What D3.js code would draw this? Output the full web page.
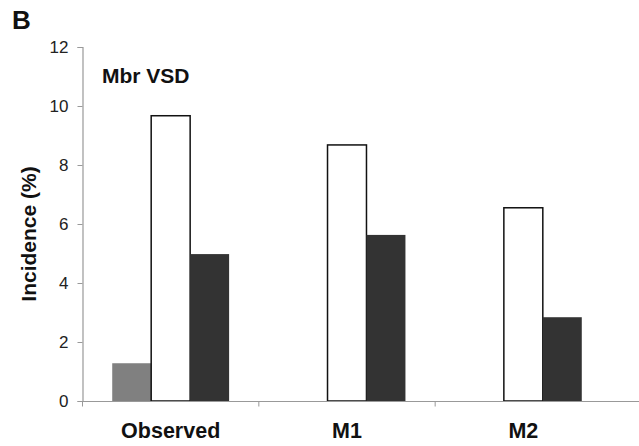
<!DOCTYPE html>
<html><head><meta charset="utf-8">
<script src="https://cdn.jsdelivr.net/npm/d3@7"></script>
<style>body{margin:0;background:#fff}svg{display:block}</style>
</head><body>
<script>
const categories = ["Observed", "M1", "M2"];
const seriesNames = ["S1", "S2", "S3"];
const s1 = [1.28, 0, 0];
const s2 = [9.67, 8.68, 6.55];
const s3 = [4.98, 5.63, 2.84];
const yTicks = [0, 2, 4, 6, 8, 10, 12];

const W = 639, H = 446;
const FONT = "Arial, 'Liberation Sans', sans-serif";
const svg = d3.select("body").append("svg").attr("width", W).attr("height", H);
const x0 = d3.scaleBand().domain(categories).range([82.5, 611.5]).paddingInner(0).paddingOuter(0);
const x1 = d3.scaleBand().domain(seriesNames).range([0, x0.bandwidth()]).paddingInner(0).paddingOuter(0.763);
const y = d3.scaleLinear().domain([0, 12]).range([401, 47]);

const fills = ["#808080", "#ffffff", "#333333"];
const strokes = ["none", "#111", "none"];
const data = categories.map((c, i) => ({c, vals: [s1[i], s2[i], s3[i]]}));

const g = svg.append("g");
data.forEach(d => {
  d.vals.forEach((v, j) => {
    if (v <= 0) return;
    g.append("rect")
      .attr("x", x0(d.c) + x1(seriesNames[j]))
      .attr("y", y(v))
      .attr("width", x1.bandwidth())
      .attr("height", y(0) - y(v))
      .attr("fill", fills[j])
      .attr("stroke", strokes[j])
      .attr("stroke-width", 1.5);
  });
});

// y axis
const yAxis = svg.append("g").attr("transform", "translate(82.5,0)")
  .call(d3.axisLeft(y).tickValues(yTicks).tickSize(5).tickPadding(9));
yAxis.select(".domain").attr("stroke", "#999").attr("stroke-width", 1.2);
yAxis.selectAll(".tick line").attr("stroke", "#999");
yAxis.selectAll("text").attr("font-family", FONT).attr("font-size", 17).attr("fill", "#222");

// x axis
const xAxis = svg.append("g").attr("transform", "translate(0,401.5)")
  .call(d3.axisBottom(x0).tickSize(0).tickPadding(21));
xAxis.select(".domain").remove();
xAxis.append("line").attr("x1", 82.5).attr("x2", W).attr("y1", 0).attr("y2", 0).attr("stroke", "#999").attr("stroke-width", 1.2);
[0, 1, 2].forEach(i => {
  const xv = i === 0 ? 82.5 : x0(categories[i]);
  xAxis.append("line").attr("x1", xv).attr("x2", xv).attr("y1", 0).attr("y2", 5).attr("stroke", "#999");
});
xAxis.selectAll("text").attr("font-family", FONT).attr("font-size", 21.5).attr("font-weight", "bold").attr("fill", "#111");

svg.append("text").attr("transform", "translate(36,234) rotate(-90)").attr("text-anchor", "middle")
  .attr("font-family", FONT).attr("font-size", 21).attr("font-weight", "bold").attr("fill", "#111")
  .text("Incidence (%)");

svg.append("text").attr("x", 102).attr("y", 83)
  .attr("font-family", FONT).attr("font-size", 21).attr("font-weight", "bold").attr("fill", "#111")
  .text("Mbr VSD");

svg.append("text").attr("x", 12).attr("y", 29)
  .attr("font-family", FONT).attr("font-size", 26).attr("font-weight", "bold").attr("fill", "#111")
  .text("B");
</script>
</body></html>
